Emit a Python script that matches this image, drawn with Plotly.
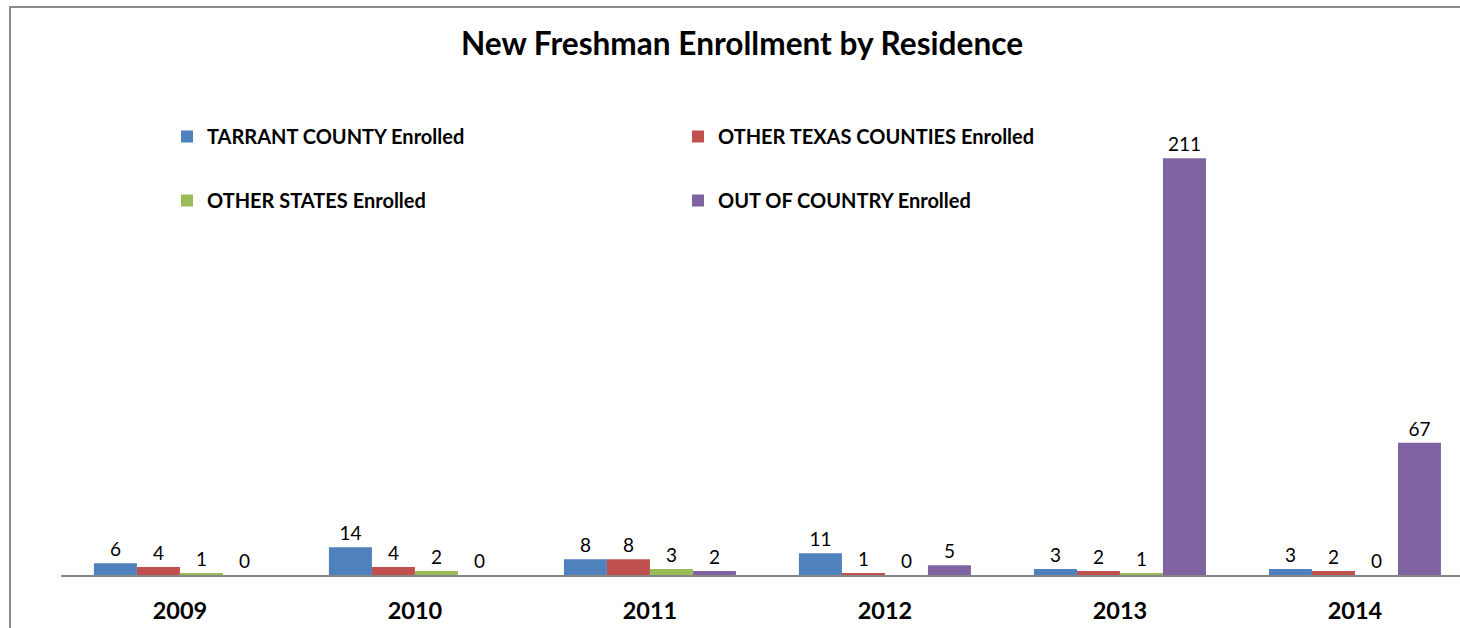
import plotly.graph_objects as go

years = ["2009", "2010", "2011", "2012", "2013", "2014"]
tarrant = [6, 14, 8, 11, 3, 3]
other_texas = [4, 4, 8, 1, 2, 2]
other_states = [1, 2, 3, 0, 1, 0]
out_of_country = [0, 0, 2, 5, 211, 67]

series_names = ["TARRANT COUNTY Enrolled", "OTHER TEXAS COUNTIES Enrolled",
                "OTHER STATES Enrolled", "OUT OF COUNTRY Enrolled"]
series_vals = [tarrant, other_texas, other_states, out_of_country]
colors = ["#4F81BD", "#C0504D", "#9BBB59", "#8064A2"]
legend_ids = ["legend", "legend2", "legend", "legend2"]

FONT = "Lato"
W, H = 1460, 628

fig = go.Figure()
for i, (name, vals) in enumerate(zip(series_names, series_vals)):
    fig.add_trace(go.Bar(
        x=years, y=vals, name=name,
        marker=dict(color=colors[i], line=dict(width=0)),
        text=[str(v) for v in vals], textposition="outside",
        constraintext="none",
        textfont=dict(family=FONT, size=19, color="#000000"),
        legend=legend_ids[i], legendgroup=name,
        cliponaxis=False,
    ))

ml, mt, mb = 61, 101, 53
pw = W - ml
ph = H - mt - mb

def px_x(px):
    return (px - ml) / pw

def px_y(py):
    return (H - mb - py) / ph

legend_common = dict(
    orientation="v", xref="paper", yref="paper",
    xanchor="left", yanchor="top", bgcolor="rgba(0,0,0,0)",
    font=dict(family=FONT, size=20, color="#000000", weight="bold"),
    tracegroupgap=35, itemwidth=30,
)

fig.update_layout(
    width=W, height=H,
    margin=dict(l=ml, r=0, t=mt, b=mb, autoexpand=False),
    paper_bgcolor="white", plot_bgcolor="white",
    barmode="group", bargap=0.268, bargroupgap=0,
    title=dict(text="<b>New Freshman Enrollment by Residence</b>",
               x=742 / W, xanchor="center", xref="container",
               y=1 - 44 / H, yanchor="middle", yref="container",
               font=dict(family=FONT, size=31.6, color="#000000")),
    legend=dict(x=px_x(167), y=px_y(117), **legend_common),
    legend2=dict(x=px_x(678), y=px_y(117), **legend_common),
    xaxis=dict(type="category", range=[-0.506, 5.447],
               showline=True, linecolor="#868686", linewidth=2,
               ticks="", showgrid=False, zeroline=False,
               ticklabelstandoff=14, automargin=False,
               tickfont=dict(family=FONT, size=23.5, color="#000000", weight="bold")),
    yaxis=dict(range=[0, 240], visible=False, showgrid=False, zeroline=False,
               automargin=False),
    showlegend=True,
)

# chart-area border (left and top edges visible; rest cropped)
fig.add_shape(type="path", xref="paper", yref="paper",
              path=f"M {px_x(10)},{px_y(700)} L {px_x(10)},{px_y(7)} L {px_x(1500)},{px_y(7)}",
              line=dict(color="#8C8C8C", width=2), layer="above")

fig.write_html("out.html",
               config={"displayModeBar": False},
               post_script="document.body.style.margin='0';document.body.style.overflow='hidden';")
